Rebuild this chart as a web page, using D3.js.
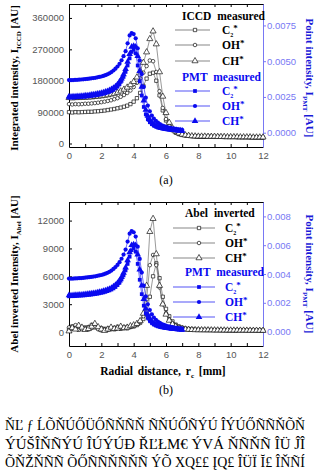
<!DOCTYPE html>
<html>
<head>
<meta charset="utf-8">
<script src="https://cdn.jsdelivr.net/npm/d3@7"></script>
<style>
body { margin: 0; background: #fff; }
svg { display: block; }
</style>
</head>
<body>
<script>
// radial grid of the ICCD / Abel profiles [mm]
var rGrid = [0,0.2,0.4,0.6,0.8,1,1.2,1.4,1.6,1.8,2,2.2,2.4,2.6,2.8,3,3.2,3.4,3.6,3.8,
  4,4.2,4.4,4.6,4.8,5,5.2,5.4,5.6,5.8,6,6.2,6.4,6.6,6.8,7,7.2,7.4,7.6,7.8,
  8,8.2,8.4,8.6,8.8,9,9.2,9.4,9.6,9.8,10,10.2,10.4,10.6,10.8,11,11.2,11.4,11.6,11.8,12];

// (a) ICCD measured, integrated intensity [AU]
var iccdC2 = [90000,89000,90000,89500,90000,90500,91000,91000,92000,92500,
  93500,94500,96000,97500,99000,101000,103000,105500,108500,113000,
  120000,130000,145000,165000,186000,200000,203000,180000,138000,95000,
  66000,48000,38000,31000,27000,24500,23000,22000,21000,20500,
  20000,20000,19500,19500,19500,19000,19000,19000,18500,18500,
  18500,18500,18000,18000,18000,18000,17500,17500,17500,17500,17000];
var iccdOH = [113000,112000,113000,112500,113000,114000,114000,115000,116000,117000,
  118500,120000,122000,124000,127000,130000,134000,139000,145000,152000,
  162000,174000,187000,203000,222000,238000,236000,205000,150000,102000,
  70000,51000,40000,32500,28000,25000,23500,22000,21500,21000,
  20500,20500,20000,20000,20000,19500,19500,19500,19000,19000,
  19000,19000,18500,18500,18500,18500,18000,18000,18000,18000,17500];
var iccdCH = [131000,130000,131000,131000,131500,132000,132500,133000,134000,135000,
  136000,137500,139000,141000,143000,146000,150000,155000,161000,168000,
  177000,190000,208000,232000,262000,300000,322000,285000,205000,135000,
  88000,60000,44000,35000,29500,26000,24000,22500,21500,21000,
  20500,20500,20500,20000,20000,20000,19500,19500,19500,19000,
  19000,19000,19000,18500,18500,18500,18500,18000,18000,18000,18000];

// (b) Abel inverted intensity [AU]
var abelC2 = [300,600,450,250,350,500,300,450,700,400,
  200,350,250,400,300,450,350,500,400,550,
  600,750,1000,1400,2200,3800,6000,7400,5800,3800,
  2500,1700,1150,800,600,470,380,320,290,260,
  250,240,245,230,235,220,225,210,215,200,
  205,200,195,190,195,185,180,185,175,170,170];
var abelOH = [500,350,750,600,300,400,550,800,500,300,
  450,250,400,300,450,600,500,400,550,600,
  700,850,1100,1700,3500,7200,8300,7200,4800,3000,
  2000,1350,950,700,520,420,350,300,270,250,
  245,240,235,230,225,220,215,210,205,200,
  200,195,190,190,185,185,180,180,175,175,170];
var abelCH = [100,450,300,700,500,250,350,600,900,550,
  300,150,300,500,350,400,600,450,500,650,
  750,900,1200,2000,5000,10800,12200,8400,5000,3000,
  1900,1250,850,600,450,360,300,270,250,230,
  225,220,215,215,210,205,200,200,195,190,
  190,185,185,180,180,175,175,170,170,165,165];

// PMT measured point intensity [AU], same in both panels
var rPmt = [0,0.125,0.25,0.375,0.5,0.625,0.75,0.875,1,1.125,1.25,1.375,1.5,1.625,1.75,1.875,
  2,2.125,2.25,2.375,2.5,2.625,2.75,2.875,3,3.125,3.25,3.375,3.5,3.625,3.75,3.875,
  4,4.125,4.25,4.375,4.5,4.625,4.75,4.875,5,5.125,5.25,5.375,5.5,5.625,5.75,5.875,
  6,6.125,6.25,6.375,6.5,6.625,6.75,6.875,7];
var pmtOH = [.00368,.00367,.00368,.00369,.00370,.00371,.00372,.00373,.00375,.00376,
  .00378,.00380,.00382,.00384,.00387,.00390,.00393,.00397,.00402,.00408,
  .00415,.00424,.00435,.00448,.00463,.00482,.00506,.00535,.00570,.00625,
  .00680,.00697,.00690,.00660,.00590,.00505,.00410,.00320,.00245,.00190,
  .00150,.00120,.00098,.00082,.00070,.00060,.00052,.00046,.00041,.00037,
  .00034,.00031,.00028,.00026,.00024,.00022,.00020];
var pmtCH = [.00252,.00251,.00252,.00253,.00254,.00255,.00256,.00257,.00259,.00260,
  .00262,.00264,.00266,.00268,.00271,.00274,.00277,.00281,.00285,.00290,
  .00296,.00303,.00312,.00323,.00337,.00355,.00378,.00408,.00445,.00495,
  .00550,.00600,.00605,.00600,.00535,.00430,.00320,.00225,.00160,.00118,
  .00090,.00072,.00058,.00048,.00041,.00036,.00032,.00029,.00026,.00024,
  .00022,.00020,.00018,.00017,.00015,.00014,.00013];
var pmtC2 = [.00245,.00246,.00246,.00247,.00248,.00249,.00250,.00251,.00252,.00254,
  .00255,.00257,.00259,.00261,.00263,.00266,.00269,.00272,.00276,.00281,
  .00286,.00292,.00300,.00310,.00323,.00340,.00362,.00390,.00425,.00470,
  .00520,.00565,.00580,.00555,.00470,.00360,.00260,.00180,.00128,.00095,
  .00074,.00060,.00050,.00043,.00037,.00033,.00030,.00027,.00025,.00023,
  .00021,.00019,.00018,.00016,.00015,.00014,.00012];

var xTicks = [0,1,2,3,4,5,6,7,8,9,10,11,12];
var topLeftTicks = [0, 90000, 180000, 270000, 360000];
var topRightTicks = [0, 0.0025, 0.005, 0.0075];
var botLeftTicks = [0, 3000, 6000, 9000, 12000];
var botRightTicks = [0, 0.002, 0.004, 0.006, 0.008];

var caption = [
  "ŇĽ  ƒ  ĹÕŇÚŐÜŐÑŇÑŇ ÑŇÚŐÑÝÚ ÎÝÚŐÑÑŇÕŇ",
  "ÝÚŠÎŇÑÝÚ ÎÚÝÚÐ ŘĽŁМ€ ÝVÁ ŇÑŇÑ ÎÜ ĴÎ",
  "ÕŇŽŇÑÑ ÕŐÑÑŇÑŇÑ ÝÕ XQ££ ĮQ£ ÎÜÏ Ĭ£ ÎŇÑÍ"
];

var BLUE = "#0a0af0";
var LAV = "#7878f4";
var SERIF = "'Liberation Serif', 'Times New Roman', serif";
var SANS = "'Liberation Sans', Arial, sans-serif";

var svg = d3.select("body").append("svg")
  .attr("width", 320).attr("height", 472)
  .style("font-family", SERIF);

var x = d3.scaleLinear().domain([0, 12]).range([69, 263]);

var shapes = { sq: d3.symbolSquare, ci: d3.symbolCircle, tr: d3.symbolTriangle };

function marker(sel, shape, filled) {
  var size = filled ? { sq: 14, ci: 14, tr: 19 }[shape] : { sq: 11, ci: 10, tr: 16 }[shape];
  sel.attr("d", d3.symbol().type(shapes[shape]).size(size))
    .attr("fill", filled ? BLUE : "#fff")
    .attr("stroke", filled ? "none" : "#111")
    .attr("stroke-width", 0.7);
}

function drawSeries(g, xs, ys, yScale, shape, filled) {
  var pts = xs.map(function (r, i) { return [r, ys[i]]; });
  g.append("path")
    .datum(pts)
    .attr("fill", "none")
    .attr("stroke", filled ? BLUE : "#555")
    .attr("stroke-width", 0.6)
    .attr("d", d3.line().x(function (d) { return x(d[0]); }).y(function (d) { return yScale(d[1]); }));
  g.selectAll(null).data(pts).enter().append("path")
    .attr("transform", function (d) { return "translate(" + x(d[0]) + "," + yScale(d[1]) + ")"; })
    .call(marker, shape, filled);
}

function styleAxis(sel, color) {
  sel.select(".domain").attr("stroke", color);
  sel.selectAll(".tick line").attr("stroke", color);
  sel.selectAll(".tick text").attr("fill", color === "#000" ? "#555" : color)
    .style("font-family", SANS).style("font-size", "9.5px");
}

function subText(t, parts, sub) {
  t.append("tspan").text(parts[0]);
  t.append("tspan").attr("dy", 3).style("font-size", "7px").text(sub);
  t.append("tspan").attr("dy", -3).text(parts[1]);
}

function panel(opt) {
  var g = svg.append("g");
  var yL = d3.scaleLinear().domain(opt.leftDomain).range([opt.bottom, opt.top]);
  var yR = d3.scaleLinear().domain([-0.001, 0.009]).range([opt.bottom, opt.top]);

  // axes
  g.append("g").attr("transform", "translate(0," + opt.bottom + ")")
    .call(d3.axisBottom(x).tickValues(xTicks).tickSizeInner(-3).tickSizeOuter(0).tickPadding(5)
      .tickFormat(function (d) { return d % 2 ? "" : d; }))
    .call(styleAxis, "#000");
  g.append("g").attr("transform", "translate(0," + opt.top + ")")
    .call(d3.axisTop(x).tickValues(xTicks).tickSizeInner(-3).tickSizeOuter(0).tickFormat(""))
    .call(styleAxis, "#000");
  g.append("g").attr("transform", "translate(69,0)")
    .call(d3.axisLeft(yL).tickValues(opt.leftTicks).tickSizeInner(-3).tickSizeOuter(0).tickPadding(5)
      .tickFormat(d3.format("d")))
    .call(styleAxis, "#000");
  g.append("g").attr("transform", "translate(263,0)")
    .call(d3.axisRight(yR).tickValues(opt.rightTicks).tickSizeInner(3).tickSizeOuter(0).tickPadding(1)
      .tickFormat(d3.format(opt.rightFormat)))
    .call(styleAxis, LAV);

  // data
  var dg = g.append("g");
  drawSeries(dg, rGrid, opt.black[0], yL, "sq", false);
  drawSeries(dg, rGrid, opt.black[1], yL, "ci", false);
  drawSeries(dg, rGrid, opt.black[2], yL, "tr", false);
  drawSeries(dg, rPmt, pmtC2, yR, "sq", true);
  drawSeries(dg, rPmt, pmtOH, yR, "ci", true);
  drawSeries(dg, rPmt, pmtCH, yR, "tr", true);

  // legend
  var lg = g.append("g").style("font-weight", "bold").style("font-size", "11.5px");
  lg.append("text").attr("x", opt.leg.hx).attr("y", opt.leg.hy)
    .style("word-spacing", "3px").text(opt.leg.head);
  lg.append("text").attr("x", opt.leg.hx).attr("y", opt.leg.rows[3] + 4)
    .attr("fill", BLUE).style("word-spacing", "3px").text("PMT measured");
  var names = ["C", "OH", "CH"];
  var shp = ["sq", "ci", "tr"];
  opt.leg.rows.forEach(function (y, i) {
    if (i === 3) return;
    var filled = i > 3;
    var k = filled ? i - 4 : i;
    lg.append("line").attr("x1", opt.leg.x1).attr("x2", opt.leg.x2).attr("y1", y).attr("y2", y)
      .attr("stroke", filled ? BLUE : "#555").attr("stroke-width", 0.7);
    lg.append("path").attr("transform", "translate(" + opt.leg.mx + "," + y + ")")
      .call(marker, shp[k], filled);
    var t = lg.append("text").attr("x", opt.leg.tx).attr("y", y + 4)
      .attr("fill", filled ? BLUE : "#000");
    t.append("tspan").text(names[k]);
    if (k === 0) t.append("tspan").attr("dy", 3).style("font-size", "6px").text("2");
    t.append("tspan").attr("dy", k === 0 ? -6 : -3).style("font-size", "9px").text("*");
  });

  // titles
  var lt = g.append("text")
    .attr("transform", "translate(14," + opt.mid + ") rotate(-90)")
    .attr("text-anchor", "middle").attr("dy", "0.35em")
    .style("font-weight", "bold").style("font-size", "11px");
  subText(lt, opt.leftTitle, opt.leftSub);
  var rt = g.append("text")
    .attr("transform", "translate(310," + opt.mid + ") rotate(90)")
    .attr("text-anchor", "middle").attr("dy", "0.35em")
    .attr("fill", "#1a1ad8")
    .style("font-weight", "bold").style("font-size", "11px");
  subText(rt, ["Point intensity, I", " [AU]"], "PMT");

  g.append("text").attr("x", 166).attr("y", opt.tagY).attr("text-anchor", "middle")
    .style("font-size", "12px").text(opt.tag);
}

panel({
  top: 4, bottom: 147, mid: 78,
  leftDomain: [-10000, 400000], leftTicks: topLeftTicks,
  rightTicks: topRightTicks, rightFormat: ".4f",
  black: [iccdC2, iccdOH, iccdCH],
  leg: { head: "ICCD measured", hx: 182, hy: 20, x1: 175, x2: 210, mx: 195, tx: 222,
         rows: [30, 45, 61, 77, 91, 106, 121] },
  leftTitle: ["Integrated intensity, I", " [AU]"], leftSub: "ICCD",
  tag: "(a)", tagY: 184
});

panel({
  top: 202, bottom: 346, mid: 274,
  leftDomain: [-1500, 14000], leftTicks: botLeftTicks,
  rightTicks: botRightTicks, rightFormat: ".3f",
  black: [abelC2, abelOH, abelCH],
  leg: { head: "Abel inverted", hx: 185, hy: 217, x1: 173, x2: 215, mx: 199, tx: 225,
         rows: [228, 243, 258, 272, 287, 302, 317] },
  leftTitle: ["Abel inverted Intensity, I", " [AU]"], leftSub: "Abel",
  tag: "(b)", tagY: 394
});

// x axis title of panel (b)
var xt = svg.append("text").attr("x", 163).attr("y", 375).attr("text-anchor", "middle")
  .style("font-weight", "bold").style("font-size", "11.5px").style("word-spacing", "2px");
subText(xt, ["Radial distance, r", " [mm]"], "c");

// caption (rendered as in the source image)
svg.append("g").selectAll("text").data(caption).enter().append("text")
  .attr("x", 5).attr("y", function (d, i) { return 430 + i * 18.5; })
  .attr("textLength", 300).attr("lengthAdjust", "spacingAndGlyphs")
  .style("font-size", "14px").text(function (d) { return d; });
</script>
</body>
</html>
